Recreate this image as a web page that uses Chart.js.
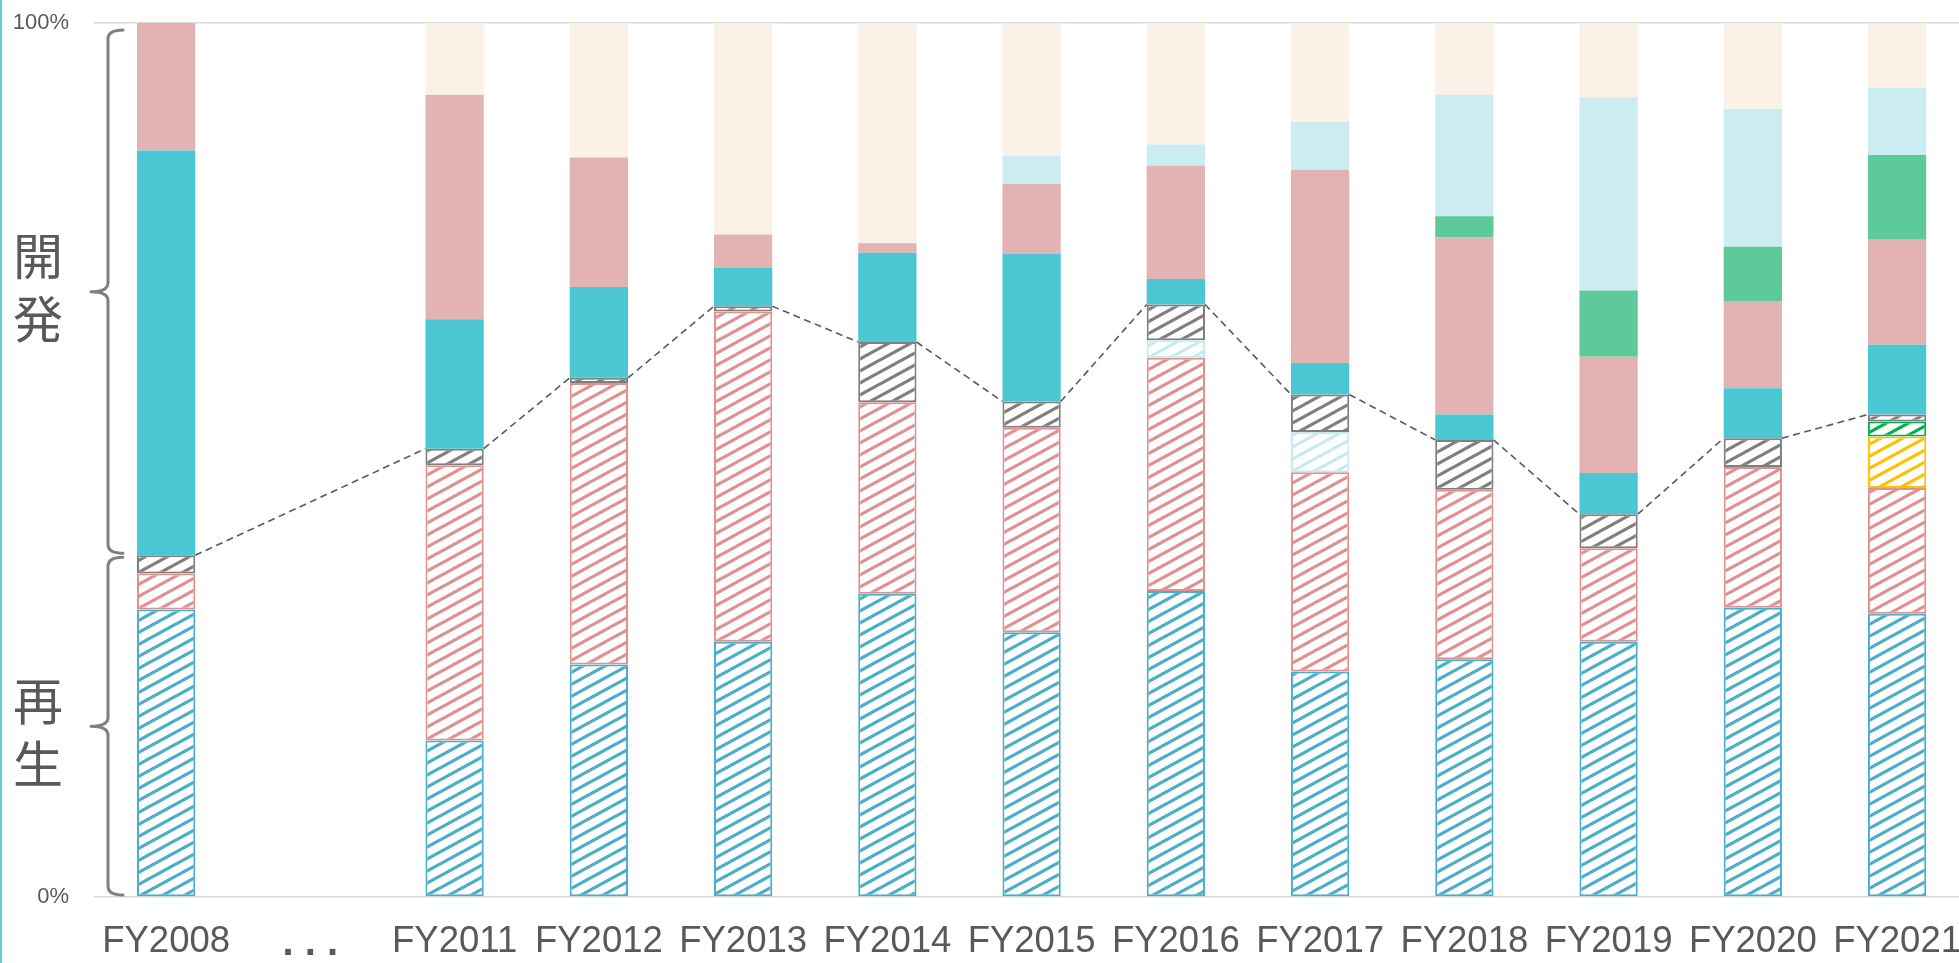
<!DOCTYPE html>
<html>
<head>
<meta charset="utf-8">
<script src="https://cdn.jsdelivr.net/npm/chart.js@4/dist/chart.umd.min.js"></script>
<style>
html,body{margin:0;padding:0;background:#fff;overflow:hidden;width:1959px;height:963px;}
#wrap{position:absolute;left:0;top:0;width:1976px;height:963px;}
#edge{position:absolute;left:0;top:0;width:2px;height:963px;background:#5dd0d6;z-index:2;}
</style>
</head>
<body>
<div id="wrap"><canvas id="c" width="1976" height="963"></canvas></div>
<div id="edge"></div>
<script>
// ---- data (percent of each year's total) ----
const categories = ['FY2008', '. . .', 'FY2011', 'FY2012', 'FY2013', 'FY2014', 'FY2015', 'FY2016', 'FY2017', 'FY2018', 'FY2019', 'FY2020', 'FY2021'];

// 再生 (hatched) segments, bottom to top
const regenBlue      = [32.9, null, 17.9, 26.6, 29.2, 34.7, 30.3, 35.0, 25.8, 27.2, 29.2, 33.1, 32.4];
const regenRed       = [4.1,  null, 31.5, 32.2, 37.8, 21.9, 23.4, 26.7, 22.8, 19.4, 10.7, 16.1, 14.4];
const regenLightCyan = [null, null, null, null, null, null, null, 2.0,  4.6,  null, null, null, null];
const regenYellow    = [null, null, null, null, null, null, null, null, null, null, null, null, 5.9];
const regenGreen     = [null, null, null, null, null, null, null, null, null, null, null, null, 1.7];
const regenGray      = [2.1,  null, 1.9,  0.6,  0.6,  6.9,  3.0,  4.1,  4.3,  5.7,  3.9,  3.3,  0.8];

// 開発 (solid) segments, bottom to top
const devCyan      = [46.3, null, 14.8, 10.4, 4.4,  10.2, 16.9, 2.9,  3.6,  2.9,  4.7,  5.7,  8.0];
const devPink      = [14.7, null, 25.7, 14.8, 3.8,  1.1,  8.0,  13.0, 22.1, 20.3, 13.3, 10.0, 12.0];
const devGreen     = [null, null, null, null, null, null, null, null, null, 2.4,  7.6,  6.2,  9.7];
const devLightCyan = [null, null, null, null, null, null, 3.2,  2.4,  5.5,  13.9, 22.1, 15.8, 7.7];
const devCream     = [null, null, 8.2,  15.4, 24.2, 25.2, 15.1, 13.9, 11.3, 8.2,  8.5,  9.9,  7.3];

const yTicks = [0, 100];
const groupLabels = ['開発', '再生'];

// ---- styling helpers ----
const FONT = "'Liberation Sans', Arial, sans-serif";
const TEXT = '#595959';

function hatch(color) {
  const w = 22, h = 12;
  const c = document.createElement('canvas');
  c.width = w; c.height = h;
  const g = c.getContext('2d');
  g.fillStyle = '#ffffff';
  g.fillRect(0, 0, w, h);
  g.strokeStyle = color;
  g.lineWidth = 3.2;
  g.lineCap = 'square';
  for (const off of [-h, 0, h]) {
    g.beginPath();
    g.moveTo(-w, 2 * h + off);
    g.lineTo(2 * w, -h + off);
    g.stroke();
  }
  return g.createPattern(c, 'repeat');
}

function hatchSet(label, data, color) {
  return {
    label, data,
    backgroundColor: hatch(color),
    borderColor: color,
    borderWidth: 2,
    borderSkipped: false,
    stack: 's'
  };
}
function solidSet(label, data, color) {
  return { label, data, backgroundColor: color, borderWidth: 0, stack: 's' };
}

const regenSeries = [regenBlue, regenRed, regenLightCyan, regenYellow, regenGreen, regenGray];

// dashed "series lines" joining the top of the 再生 block between adjacent bars
const seriesLines = {
  id: 'seriesLines',
  afterDatasetsDraw(chart) {
    const ctx = chart.ctx, ys = chart.scales.y, meta = chart.getDatasetMeta(0);
    const tops = categories.map((_, i) => regenSeries.reduce((s, a) => s + (a[i] || 0), 0));
    const idx = categories.map((_, i) => i).filter(i => regenBlue[i] != null);
    ctx.save();
    ctx.setLineDash([7, 4.5]);
    ctx.lineWidth = 1.6;
    ctx.strokeStyle = '#5a5a5a';
    for (let k = 0; k < idx.length - 1; k++) {
      const i = idx[k], j = idx[k + 1];
      const a = meta.data[i].getProps(['x', 'width'], true);
      const b = meta.data[j].getProps(['x', 'width'], true);
      ctx.beginPath();
      ctx.moveTo(a.x + a.width / 2, ys.getPixelForValue(tops[i]));
      ctx.lineTo(b.x - b.width / 2, ys.getPixelForValue(tops[j]));
      ctx.stroke();
    }
    ctx.restore();
  }
};

// braces + 開発 / 再生 labels on the left
const groupBraces = {
  id: 'groupBraces',
  afterDraw(chart) {
    const ctx = chart.ctx, ys = chart.scales.y;
    const boundary = regenSeries.reduce((s, a) => s + (a[0] || 0), 0);
    const groups = [
      { top: ys.getPixelForValue(100) + 7, bot: ys.getPixelForValue(boundary) - 2, label: groupLabels[0], shift: -4 },
      { top: ys.getPixelForValue(boundary) + 2, bot: ys.getPixelForValue(0) - 2, label: groupLabels[1], shift: 6 }
    ];
    const x = 108;
    ctx.save();
    ctx.strokeStyle = '#808080';
    ctx.lineWidth = 3;
    ctx.lineCap = 'round';
    ctx.lineJoin = 'round';
    for (const gp of groups) {
      const mid = (gp.top + gp.bot) / 2;
      const r = 9;
      ctx.beginPath();
      ctx.moveTo(x + 15, gp.top);
      ctx.quadraticCurveTo(x, gp.top, x, gp.top + r);
      ctx.lineTo(x, mid - r);
      ctx.quadraticCurveTo(x, mid, x - 17, mid);
      ctx.quadraticCurveTo(x, mid, x, mid + r);
      ctx.lineTo(x, gp.bot - r);
      ctx.quadraticCurveTo(x, gp.bot, x + 15, gp.bot);
      ctx.stroke();

      ctx.fillStyle = TEXT;
      ctx.font = "50px 'Noto Sans CJK JP', sans-serif";
      ctx.textAlign = 'center';
      ctx.textBaseline = 'middle';
      const chars = Array.from(gp.label);
      const step = 63;
      const c0 = mid + gp.shift - (chars.length - 1) * step / 2;
      chars.forEach((ch, k) => ctx.fillText(ch, 38, c0 + k * step));
    }
    ctx.restore();
  }
};

new Chart(document.getElementById('c'), {
  type: 'bar',
  data: {
    labels: categories,
    datasets: [
      hatchSet('再生1', regenBlue, '#4aaecb'),
      hatchSet('再生2', regenRed, '#e0918f'),
      hatchSet('再生3', regenLightCyan, '#c6eaf0'),
      hatchSet('再生4', regenYellow, '#ffc000'),
      hatchSet('再生5', regenGreen, '#00b050'),
      hatchSet('再生6', regenGray, '#7f7f7f'),
      solidSet('開発1', devCyan, '#4bc7d3'),
      solidSet('開発2', devPink, '#e3b3b3'),
      solidSet('開発3', devGreen, '#5ec99a'),
      solidSet('開発4', devLightCyan, '#cbedf2'),
      solidSet('開発5', devCream, '#fbf1e6')
    ]
  },
  options: {
    responsive: false,
    animation: false,
    events: [],
    layout: { padding: { top: 23, left: 0, right: 0, bottom: 0 } },
    datasets: { bar: { categoryPercentage: 1, barPercentage: 0.404 } },
    plugins: { legend: { display: false }, tooltip: { enabled: false } },
    scales: {
      x: {
        stacked: true,
        grid: { display: false },
        border: { display: false },
        ticks: {
          color: TEXT,
          padding: 15,
          autoSkip: false,
          maxRotation: 0,
          font: (c) => c.index === 1 ? { family: FONT, size: 40, weight: 'bold' } : { family: FONT, size: 36.5 }
        },
        afterFit: (s) => { s.height = 66; }
      },
      y: {
        stacked: true,
        min: yTicks[0],
        max: yTicks[1],
        ticks: {
          stepSize: yTicks[1] - yTicks[0],
          callback: (v) => v + '%',
          color: TEXT,
          padding: 25,
          font: { family: FONT, size: 22 }
        },
        grid: { color: '#d9d9d9', lineWidth: 1.5, drawTicks: false },
        border: { display: false },
        afterFit: (s) => { s.width = 94; s.paddingTop = 13; s.paddingBottom = 13; }
      }
    }
  },
  plugins: [seriesLines, groupBraces]
});
</script>
</body>
</html>
